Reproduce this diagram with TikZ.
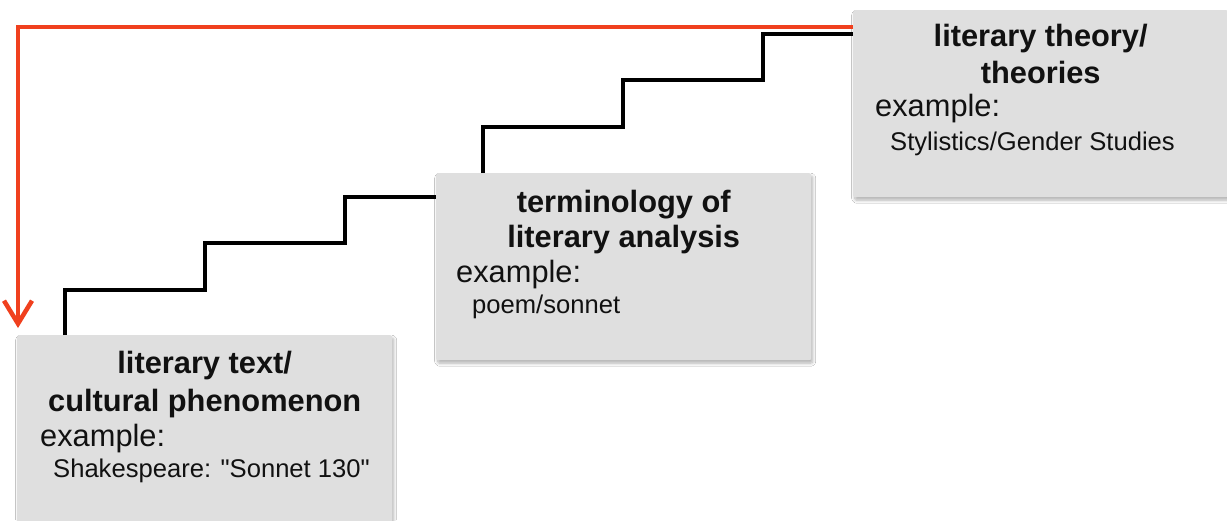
\documentclass[tikz,border=0pt]{standalone}
\usepackage{fontspec}
\setmainfont{Liberation Sans}[Ligatures=TeXOff]
\usetikzlibrary{arrows.meta,calc,shadows.blur}
\definecolor{boxgray}{HTML}{DFDFDF}
\definecolor{arrowred}{HTML}{F0401E}
\definecolor{txt}{HTML}{111111}
\begin{document}
\begin{tikzpicture}[x=1pt,y=-1pt,
  box/.style={rectangle, fill=boxgray, rounded corners=2pt, minimum width=375pt, minimum height=187pt, inner sep=0pt, anchor=north west,
    blur shadow={shadow xshift=1.5pt, shadow yshift=-3pt, shadow blur steps=8, shadow blur radius=3pt, shadow opacity=30}},
  ttl/.style={anchor=base, inner sep=0pt, text=txt, font=\fontsize{30.8}{38}\selectfont\bfseries},
  exm/.style={anchor=base west, inner sep=0pt, text=txt, font=\fontsize{30.8}{35}\selectfont},
  sub/.style={anchor=base west, inner sep=0pt, text=txt, font=\fontsize{25.6}{31}\selectfont},
  stair/.style={line width=3.3pt, black, line join=miter},
  redarrow/.style={line width=3.5pt, arrowred, line join=miter, -{Straight Barb[length=23pt,width=28pt,line width=4.5pt]}}
]
\useasboundingbox (0,0) rectangle (1227,520);
\fill[white] (0,0) rectangle (1227,520);

% boxes
\node[box] (b1) at (17,335) {};
\node[box] (b2) at (436,173) {};
\node[box] (b3) at (853,10) {};

% texts box 1
\node[ttl] (b1t1) at ($(b1.north)+(0,38)$) {literary text/};
\node[ttl] (b1t2) at ($(b1.north)+(0,76)$) {cultural phenomenon};
\node[exm] (b1ex) at ($(b1.north west)+(23,111)$) {example:};
\node[sub] (b1sb) at ($(b1.north west)+(36,142)$) {Shakespeare: "Sonnet 130"};

% texts box 2
\node[ttl] (b2t1) at ($(b2.north)+(0,39)$) {terminology of};
\node[ttl] (b2t2) at ($(b2.north)+(0,74)$) {literary analysis};
\node[exm] (b2ex) at ($(b2.north west)+(20,109)$) {example:};
\node[sub] (b2sb) at ($(b2.north west)+(36,140)$) {poem/sonnet};

% texts box 3
\node[ttl] (b3t1) at ($(b3.north)+(0,36)$) {literary theory/};
\node[ttl] (b3t2) at ($(b3.north)+(0,73)$) {theories};
\node[exm] (b3ex) at ($(b3.north west)+(22,106)$) {example:};
\node[sub] (b3sb) at ($(b3.north west)+(37,140)$) {Stylistics/Gender Studies};

% staircases
\draw[stair] ([xshift=48pt]b1.north west) -- ++(0,-45) -- ++(140,0) -- ++(0,-47) -- ++(140,0) -- ++(0,-46) -- ([yshift=-24pt]b2.north west);
\draw[stair] ([xshift=47pt]b2.north west) -- ++(0,-46) -- ++(140,0) -- ++(0,-47) -- ++(140,0) -- ++(0,-46) -- ([yshift=-24pt]b3.north west);

% red return arrow
\draw[redarrow] ([yshift=-17pt]b3.north west) -| ([xshift=1pt,yshift=7pt]b1.north west);
\end{tikzpicture}
\end{document}
